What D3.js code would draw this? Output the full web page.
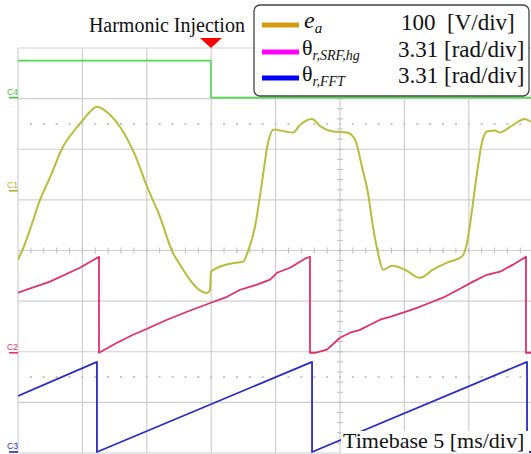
<!DOCTYPE html>
<html>
<head>
<meta charset="utf-8">
<script src="https://cdn.jsdelivr.net/npm/d3@7"></script>
<style>
  html, body { margin: 0; padding: 0; background: #fff; }
  svg { display: block; }
</style>
</head>
<body>
<svg id="scope" width="531" height="454"></svg>
<script>
// ---- Acquired traces (time in ms) ----
// e_a : phase back-EMF [V]
const eaTime = [0, 0.31, 0.93, 1.71, 2.48, 3.49, 4.43, 5.05, 5.59, 6.13, 7.14, 7.92, 9.08, 10.02,
  11.02, 11.96, 12.58, 13.35, 13.90, 14.67, 14.91,
  14.98, 16.46, 17.47, 17.86, 18.40, 18.94, 19.41, 19.88, 20.73, 21.35, 21.89, 22.83, 23.45,
  24.46, 25.54, 26.17, 26.71, 27.17, 27.56, 27.95, 28.34, 29.04, 30.05, 31.21, 32.22, 33.31,
  34.47, 34.86, 35.25, 35.64, 36.02, 36.41, 37.03, 37.42, 38.20, 39.36, 39.83];
const eaVolt = [-136, -119, -77, -18, 26, 87, 121, 140, 156, 166, 150, 126, 71, 8,
  -51, -119, -146, -176, -192, -202, -196,
  -160, -144, -140, -119, -71, 16, 95, 121, 117, 115, 130, 142, 128,
  117, 115, 101, 47, -4, -71, -123, -156, -148, -156, -172, -156, -142,
  -130, -103, -38, 36, 95, 117, 119, 115, 126, 142, 136];

// theta_r,SRF,hg : estimated rotor angle [rad]
const thSrfTime = [0, 2.48, 4.81, 6.29, 6.29, 7.69, 8.93, 10.02, 11.57, 13.12, 14.98, 16.23,
  17.24, 18.56, 19.57, 20.11, 21.12, 22.28, 22.67, 22.67, 23.06, 23.99, 25.00, 25.78, 26.55,
  27.33, 28.11, 28.88, 29.89, 30.98, 31.99, 32.99, 34.32, 35.33, 36.41, 37.42, 38.43, 39.44,
  39.44, 39.83];
const thSrfRad = [3.93, 4.65, 5.56, 6.28, 0, 0.65, 1.18, 1.57, 2.16, 2.68, 3.27, 3.66,
  4.12, 4.45, 4.78, 5.23, 5.56, 6.15, 6.28, 0, 0, 0.20, 0.98, 1.31, 1.50,
  1.83, 2.16, 2.35, 2.62, 2.94, 3.27, 3.60, 4.19, 4.65, 5.10, 5.30, 5.76, 6.28,
  0, 0];

// theta_r,FFT : reference rotor angle [rad]
const thFftTime = [0, 6.13, 6.13, 22.83, 22.83, 39.52, 39.52, 39.83];
const thFftRad = [3.66, 5.89, 0, 5.89, 0, 5.89, 0, 0];

// injection enable flag
const flagTime = [0, 14.98, 14.98, 50];
const flagLevel = [1, 1, 0, 0];
const injectionTime = 14.98;

// ---- Legend / annotation texts ----
const legendColors = ["#d49a10", "#ff00ff", "#0000ff"];
const legendScales = ["100  [V/div]", "3.31 [rad/div]", "3.31 [rad/div]"];

// ---- Screen geometry ----
const scrLeft = 18, scrTop = 48;
const divX = 64.4, divY = 50.625;
const nDivX = 10, nDivY = 8;
const W = divX * nDivX, H = divY * nDivY;

const svg = d3.select("#scope");
svg.append("defs").append("clipPath").attr("id", "screen")
  .append("rect").attr("x", scrLeft).attr("y", scrTop).attr("width", W).attr("height", H);

const x = d3.scaleLinear().domain([0, 5 * nDivX]).range([scrLeft, scrLeft + W]);

// per-channel vertical scale: reference position (in divisions from top) and units/div
function chanScale(refDiv, perDiv) {
  const ref = scrTop + refDiv * divY;
  return d3.scaleLinear().domain([0, perDiv]).range([ref, ref - divY]);
}
const yC1 = chanScale(2.82, 100);
const yC2 = chanScale(6.02, 3.31);
const yC3 = chanScale(7.98, 3.31);
const yC4 = chanScale(0.98, 1 / 0.73);

// ---- Graticule ----
const grid = svg.append("g");
const gridColor = "#cfcfcf";
d3.range(nDivX + 1).forEach(i => {
  grid.append("line").attr("x1", scrLeft + i * divX).attr("x2", scrLeft + i * divX)
    .attr("y1", scrTop).attr("y2", scrTop + H).attr("stroke", gridColor).attr("stroke-width", 1.2);
});
d3.range(nDivY + 1).forEach(j => {
  grid.append("line").attr("x1", scrLeft).attr("x2", scrLeft + W)
    .attr("y1", scrTop + j * divY).attr("y2", scrTop + j * divY).attr("stroke", gridColor).attr("stroke-width", 1.2);
});
const cx = scrLeft + 5 * divX, cy = scrTop + 4 * divY;
// minor ticks on the centre axes
d3.range(1, nDivX * 5).forEach(k => {
  const px = scrLeft + k * divX / 5;
  grid.append("line").attr("x1", px).attr("x2", px).attr("y1", cy - 3).attr("y2", cy + 3)
    .attr("stroke", "#bdbdbd").attr("stroke-width", 1);
});
d3.range(1, nDivY * 5).forEach(k => {
  const py = scrTop + k * divY / 5;
  grid.append("line").attr("x1", cx - 3).attr("x2", cx + 3).attr("y1", py).attr("y2", py)
    .attr("stroke", "#bdbdbd").attr("stroke-width", 1);
});
// dotted cursor rows
[cy - 2.5 * divY, cy + 2.5 * divY].forEach(py => {
  d3.range(1, nDivX * 5).forEach(k => {
    grid.append("rect").attr("x", scrLeft + k * divX / 5 - 1).attr("y", py - 1)
      .attr("width", 2).attr("height", 2).attr("fill", "#c4c4c4");
  });
});

// ---- Traces ----
const traces = svg.append("g").attr("clip-path", "url(#screen)");
function drawTrace(ts, vs, yScale, color, width, curve) {
  const line = d3.line().x((d, i) => x(ts[i])).y((d, i) => yScale(vs[i]))
    .curve(curve || d3.curveLinear);
  traces.append("path").datum(vs).attr("d", line)
    .attr("fill", "none").attr("stroke", color).attr("stroke-width", width)
    .attr("stroke-linejoin", "round");
}
drawTrace(flagTime, flagLevel, yC4, "#4ddc4d", 1.6);
drawTrace(eaTime, eaVolt, yC1, "#b9bd3a", 2, d3.curveMonotoneX);
drawTrace(thSrfTime, thSrfRad, yC2, "#e0306c", 1.8);
drawTrace(thFftTime, thFftRad, yC3, "#2a2ac4", 1.8);

// ---- Channel markers ----
const markers = [
  { name: "C4", color: "#3cc43c", y: yC4(0) },
  { name: "C1", color: "#b3b330", y: yC1(0) },
  { name: "C2", color: "#e0306c", y: yC2(0) },
  { name: "C3", color: "#2a2ac4", y: yC3(0) }
];
markers.forEach(m => {
  svg.append("text").attr("x", 7).attr("y", m.y - 3).text(m.name)
    .attr("font-family", "Liberation Sans, Arial, sans-serif").attr("font-size", 8.5)
    .attr("fill", m.color);
  svg.append("line").attr("x1", 9).attr("x2", scrLeft).attr("y1", m.y).attr("y2", m.y)
    .attr("stroke", m.color).attr("stroke-width", 1.6);
});

// ---- Injection trigger annotation ----
const tx = x(injectionTime);
svg.append("path")
  .attr("d", `M${tx - 11},${scrTop - 10}L${tx + 11},${scrTop - 10}L${tx},${scrTop}Z`)
  .attr("fill", "#ff0000");
svg.append("text").attr("x", tx + 34).attr("y", 32).attr("text-anchor", "end")
  .attr("font-family", "Liberation Serif, Times New Roman, serif").attr("font-size", 20)
  .attr("fill", "#111").text("Harmonic Injection");

// ---- Legend ----
const lg = svg.append("g");
lg.append("rect").attr("x", 254).attr("y", 5).attr("width", 275).attr("height", 91)
  .attr("rx", 6).attr("fill", "#fff").attr("stroke", "#444").attr("stroke-width", 1.3);
const rowY = [25, 52, 78];
const serif = "Liberation Serif, Times New Roman, serif";
rowY.forEach((ry, i) => {
  lg.append("rect").attr("x", 262).attr("y", ry - 2.5).attr("width", 37).attr("height", 5)
    .attr("fill", legendColors[i]);
  lg.append("text").attr("x", i === 0 ? 401 : 398).attr("y", ry + 5)
    .attr("font-family", serif).attr("font-size", 23).attr("fill", "#111")
    .style("white-space", "pre").text(legendScales[i]);
});
// e_a
const t0 = lg.append("text").attr("x", 304).attr("y", rowY[0] + 3)
  .attr("font-family", serif).attr("font-size", 24).attr("fill", "#111");
t0.append("tspan").attr("font-style", "italic").text("e");
t0.append("tspan").attr("font-style", "italic").attr("font-size", 15).attr("dy", 5).text("a");
// theta labels
[["r,SRF,hg", rowY[1]], ["r,FFT", rowY[2]]].forEach(([sub, ry]) => {
  const t = lg.append("text").attr("x", 302).attr("y", ry + 3)
    .attr("font-family", serif).attr("font-size", 22).attr("fill", "#111");
  t.append("tspan").text("θ");
  t.append("tspan").attr("font-style", "italic").attr("font-size", 14).attr("dy", 5).text(sub);
});

// ---- Timebase label ----
const tb = svg.append("g");
tb.append("rect").attr("x", 341).attr("y", 431).attr("width", 188).attr("height", 22).attr("fill", "#fff");
tb.append("text").attr("x", 343).attr("y", 448)
  .attr("font-family", serif).attr("font-size", 22).attr("fill", "#111")
  .text("Timebase 5 [ms/div]");
</script>
</body>
</html>
